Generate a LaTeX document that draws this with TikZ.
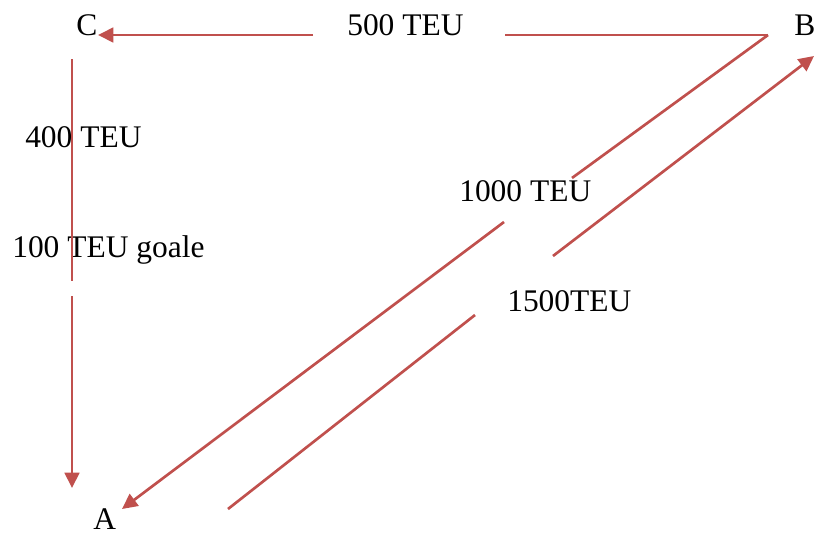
\documentclass[tikz,border=0pt]{standalone}
\usepackage{fontspec}
\setmainfont{Liberation Serif}
\usetikzlibrary{arrows.meta}
\definecolor{flow}{HTML}{C0504D}
\begin{document}
\begin{tikzpicture}[x=0.75pt,y=-0.75pt,
  lbl/.style={inner sep=0pt,anchor=base west,font=\fontsize{23.6}{28}\selectfont},
  flowline/.style={draw=flow,line width=2pt},
  flowarrow/.style={flowline,-{Triangle[length=11.5pt,width=11pt]}}]
  \useasboundingbox (0,0) rectangle (814,533);

  % ports and places
  \node[lbl] (C) at (76,35) {C};
  \node[lbl] (B) at (794,35) {B};
  \node[lbl] (A) at (93,529) {A};

  % volume labels
  \node[lbl] (l500) at (347,35) {500 TEU};
  \node[lbl] (l400) at (25,147) {400 TEU};
  \node[lbl] (l100) at (12,257) {100 TEU goale};
  \node[lbl] (l1000) at (459,201) {1000 TEU};
  \node[lbl] (l1500) at (507,311) {1500TEU};

  % end points of the broken flow lines
  \coordinate (cTip) at (98,35);
  \coordinate (bcL) at (313,35);
  \coordinate (bcR) at (505,35);
  \coordinate (bV) at (768,35);
  \coordinate (baM1) at (572,178);
  \coordinate (baM2) at (504,222);
  \coordinate (aTip1) at (122,509);
  \coordinate (caTop) at (72,59);
  \coordinate (caM1) at (72,281);
  \coordinate (caM2) at (72,296);
  \coordinate (aTip2) at (72,488);
  \coordinate (abS) at (228,509);
  \coordinate (abM1) at (475,315);
  \coordinate (abM2) at (553,256);
  \coordinate (bTip) at (814,56);

  % B -> C
  \draw[flowline] (bV) -- (bcR);
  \draw[flowarrow] (bcL) -- (cTip);
  % B -> A
  \draw[flowline] (bV) -- (baM1);
  \draw[flowarrow] (baM2) -- (aTip1);
  % C -> A
  \draw[flowline] (caTop) -- (caM1);
  \draw[flowarrow] (caM2) -- (aTip2);
  % A -> B
  \draw[flowline] (abS) -- (abM1);
  \draw[flowarrow] (abM2) -- (bTip);
\end{tikzpicture}
\end{document}
